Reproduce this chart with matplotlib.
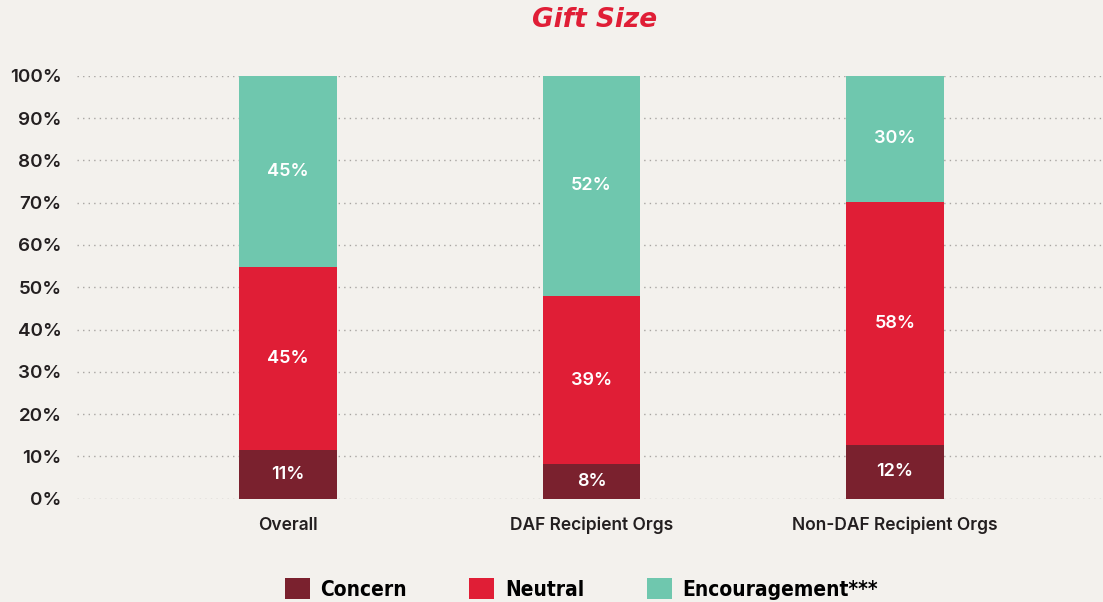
import matplotlib
matplotlib.use("Agg")
import matplotlib.pyplot as plt
from matplotlib.patches import Patch
import numpy as np

# bar heights (percent), labels as printed on the chart
groups = ["Overall", "DAF Recipient Orgs", "Non-DAF Recipient Orgs"]
concern = [11.5, 8.2, 12.7]
neutral = [43.2, 39.7, 57.4]
encouragement = [45.3, 52.1, 29.9]
concern_lbl = ["11%", "8%", "12%"]
neutral_lbl = ["45%", "39%", "58%"]
encouragement_lbl = ["45%", "52%", "30%"]
series_names = ["Concern", "Neutral", "Encouragement***"]
yticks = [0, 10, 20, 30, 40, 50, 60, 70, 80, 90, 100]

colors = ["#7a212e", "#e01e36", "#6fc7ae"]
bg = "#f3f1ed"
txt = "#231f20"

plt.rcParams['font.family'] = ['Inter', 'DejaVu Sans']

fig = plt.figure(figsize=(11.03, 6.02), dpi=100, facecolor=bg)
ax = fig.add_axes([0.0698, 0.1716, 0.9302, 0.7026])
ax.set_facecolor(bg)

x = np.arange(len(groups))
w = 0.32
bottom = np.zeros(len(groups))
for vals, lbls, c in zip([concern, neutral, encouragement],
                         [concern_lbl, neutral_lbl, encouragement_lbl], colors):
    bars = ax.bar(x, vals, w, bottom=bottom, color=c, zorder=3)
    ax.bar_label(bars, labels=lbls, label_type='center', color='white',
                 fontsize=13, fontweight='semibold')
    bottom += np.array(vals)

ax.set_ylim(0, 100)
ax.set_xlim(-0.695, 2.685)
ax.set_yticks(yticks)
ax.set_yticklabels([f"{t}%" for t in yticks], fontsize=13.5, color=txt,
                   fontweight='semibold')
ax.set_xticks(x)
ax.set_xticklabels(groups, fontsize=12.5, color=txt, fontweight='semibold')
ax.tick_params(length=0)
ax.tick_params(axis='y', pad=11)
ax.tick_params(axis='x', pad=13)
for s in ax.spines.values():
    s.set_visible(False)
ax.yaxis.grid(True, color="#a8a5a2", linestyle=(0, (1, 3)), linewidth=1, zorder=0)
ax.set_axisbelow(True)

fig.text(0.539, 0.966, "Gift Size", color="#e01e36", fontsize=19,
         fontweight='bold', fontstyle='italic', ha='center', va='center',
         family=['DejaVu Sans'])

handles = [Patch(facecolor=c) for c in colors]
fig.legend(handles, series_names, loc='center', bbox_to_anchor=(0.527, 0.022),
           ncol=3, frameon=False, handlelength=1.2, handleheight=1.2,
           columnspacing=3.0, handletextpad=0.5,
           prop={'family': ['DejaVu Sans'], 'stretch': 'condensed',
                 'weight': 'bold', 'size': 15})

fig.savefig("out.png", dpi=100, facecolor=bg)
